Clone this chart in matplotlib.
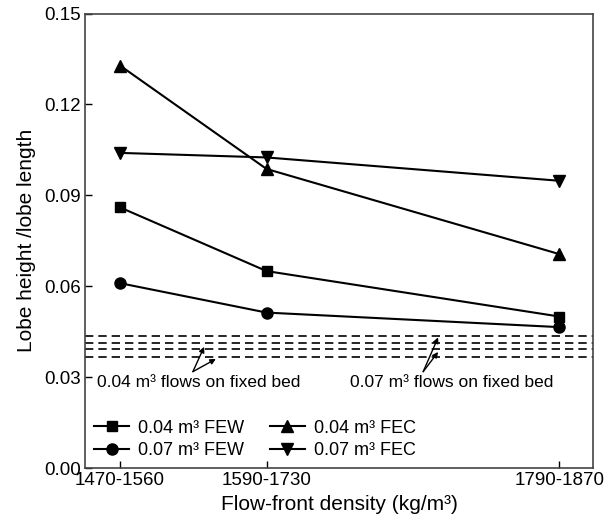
from matplotlib import pyplot as plt

plt.rcParams['font.family'] = ['Liberation Sans', 'DejaVu Sans']

# categorias de densidad (posiciones 1, 2, 4 como en la figura)
densidad = ["1470-1560", "1590-1730", "1790-1870"]
xpos = [1, 2, 4]

few_004 = [0.086, 0.065, 0.050]
few_007 = [0.061, 0.0513, 0.0465]
fec_004 = [0.1328, 0.0987, 0.0706]
fec_007 = [0.104, 0.1025, 0.0948]

# lineas de lecho fijo
lecho_fijo = [0.0436, 0.0414, 0.0394, 0.0368]

fig = plt.figure(figsize=(6.04, 5.28), dpi=100)
ax = fig.add_axes([0.1407, 0.1136, 0.8411, 0.8608])

ax.plot(xpos, few_004, color="black", lw=1.5, marker="s", ms=7, label="0.04 m³ FEW")
ax.plot(xpos, few_007, color="black", lw=1.5, marker="o", ms=8, label="0.07 m³ FEW")
ax.plot(xpos, fec_004, color="black", lw=1.5, marker="^", ms=8, label="0.04 m³ FEC")
ax.plot(xpos, fec_007, color="black", lw=1.5, marker="v", ms=8, label="0.07 m³ FEC")

for y in lecho_fijo:
    ax.axhline(y, color="black", lw=1.2, ls=(0, (5, 3)))

# flechas y textos
flecha = dict(arrowstyle="-|>", color="black", lw=1, mutation_scale=8, shrinkA=0, shrinkB=0)
ax.annotate("", xy=(1.574, 0.0400), xytext=(1.497, 0.0318), arrowprops=flecha)
ax.annotate("", xy=(1.654, 0.0360), xytext=(1.497, 0.0318), arrowprops=flecha)
ax.annotate("", xy=(3.172, 0.0431), xytext=(3.07, 0.0318), arrowprops=flecha)
ax.annotate("", xy=(3.172, 0.0383), xytext=(3.07, 0.0318), arrowprops=flecha)
ax.text(1.534, 0.0283, "0.04 m³ flows on fixed bed", ha="center", va="center", fontsize=12.5)
ax.text(3.262, 0.0283, "0.07 m³ flows on fixed bed", ha="center", va="center", fontsize=12.5)

ax.set_xlim(0.76, 4.23)
ax.set_ylim(0, 0.15)
ax.set_xticks(xpos)
ax.set_xticklabels(densidad)
ax.set_yticks([0, 0.03, 0.06, 0.09, 0.12, 0.15])
ax.set_yticklabels(["0.00", "0.03", "0.06", "0.09", "0.12", "0.15"])
ax.tick_params(direction="in", length=5, width=1, labelsize=13.5, pad=3)
for s in ax.spines.values():
    s.set_color("#444444")
    s.set_linewidth(1.2)

ax.set_xlabel("Flow-front density (kg/m³)", fontsize=15, labelpad=4)
ax.set_ylabel("Lobe height /lobe length", fontsize=15, labelpad=6)

ax.legend(ncol=2, loc="lower left", frameon=False, fontsize=13, handlelength=1.95,
          handletextpad=0.5, columnspacing=1.4, labelspacing=0.3, borderaxespad=0.1,
          bbox_to_anchor=(0.0, 0.0))

plt.savefig("out.png", dpi=100)
